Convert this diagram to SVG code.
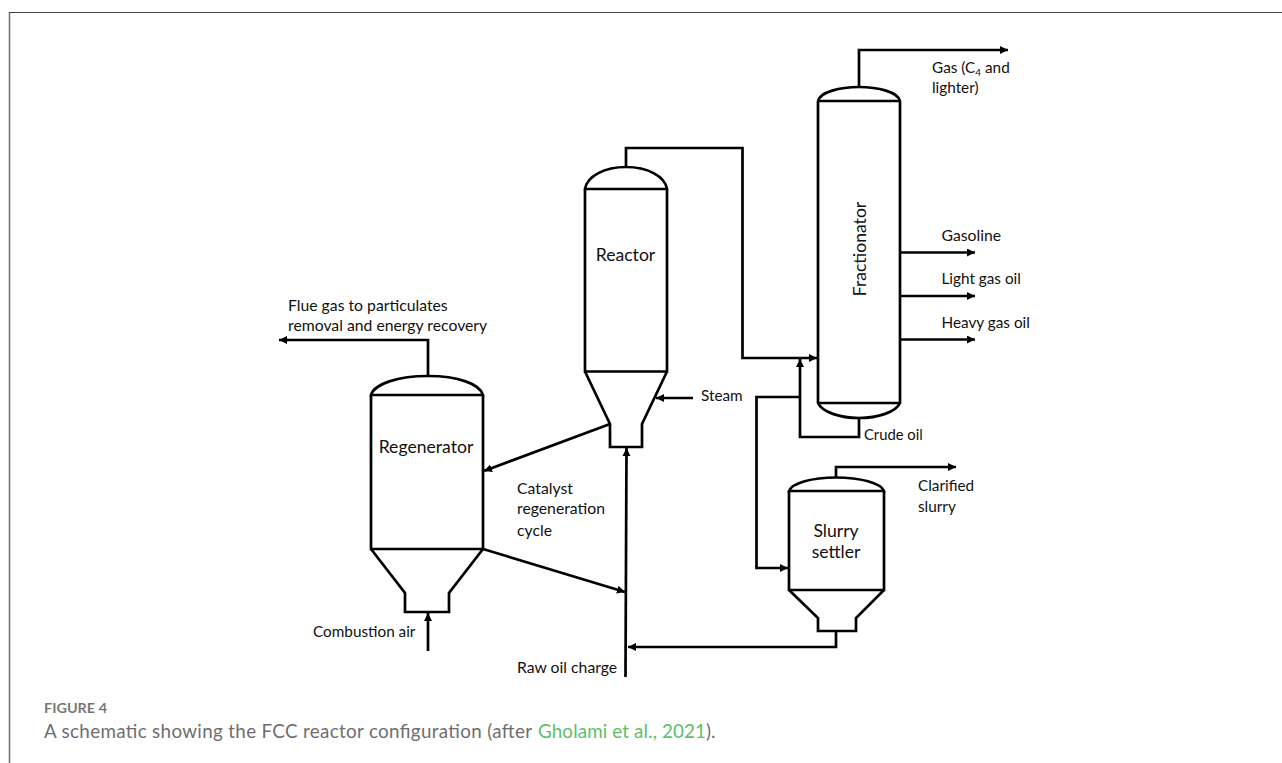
<svg xmlns="http://www.w3.org/2000/svg" width="1282" height="763" viewBox="0 0 1282 763">
<style>
.s{fill:none;stroke:#000;stroke-width:2.7}
.t{font-family:"Lato","Liberation Sans",sans-serif;font-size:15.300px;fill:#111}
.w{font-size:15.750px}
.l{font-family:"Lato","Liberation Sans",sans-serif;font-size:17.600px;fill:#111}
.c{font-family:"Lato","Liberation Sans",sans-serif;fill:#6e6e6e;font-size:18.800px}
</style>
<defs>
<marker id="a" markerUnits="userSpaceOnUse" markerWidth="10" markerHeight="10" refX="8" refY="4" orient="auto"><path d="M0 0L8 4L0 8Z" fill="#000"/></marker>
</defs>
<rect width="1282" height="763" fill="#fff"/>
<path d="M9.500 763V12" fill="none" stroke="#777" stroke-width="1.600"/>
<path d="M9 12.500H1282" fill="none" stroke="#444" stroke-width="1.200"/>
<g id="connectors">
<path class="s" d="M859 87V50H1008" marker-end="url(#a)"/>
<path class="s" d="M626 167V148H742.500V358H817" marker-end="url(#a)"/>
<path class="s" d="M900 252.500H975" marker-end="url(#a)"/>
<path class="s" d="M900 296H975" marker-end="url(#a)"/>
<path class="s" d="M900 339.500H975" marker-end="url(#a)"/>
<path class="s" d="M859 418V437H800V359" marker-end="url(#a)"/>
<path class="s" d="M800 397H756.500V568H788" marker-end="url(#a)"/>
<path class="s" d="M693 398H656" marker-end="url(#a)"/>
<path class="s" d="M610 424L484 471" marker-end="url(#a)"/>
<path class="s" d="M625.500 677L626.500 448" marker-end="url(#a)"/>
<path class="s" d="M483 549L625 592" marker-end="url(#a)"/>
<path class="s" d="M836 631V647H628" marker-end="url(#a)"/>
<path class="s" d="M836 478V467H956" marker-end="url(#a)"/>
<path class="s" d="M428 651V613" marker-end="url(#a)"/>
<path class="s" d="M428 376V340H279" marker-end="url(#a)"/>
</g>
<g id="fractionator">
<path class="s" d="M818 101C820 92 840 87 859 87S898 92 900 101M818 101H900M818 101V403C822 412 840 418 859 418S896 412 900 403V101M818 403H900"/>
<text class="l" transform="translate(866,249) rotate(-90)" text-anchor="middle">Fractionator</text>
</g>
<g id="reactor">
<path class="s" d="M585 189C587 176 605 167 626 167S665 176 667 189ZM585 189V371.500H667V189M585 371.500L610 424V447H642V424L667 371.500"/>
<text class="l" x="625.500" y="261" text-anchor="middle">Reactor</text>
</g>
<g id="regenerator">
<path class="s" d="M371 395C374 384 398 376 428 376S480 384 483 395ZM371 395V549H483V395M371 549L405 593V612H449V593L483 549"/>
<text class="l" x="426" y="453" text-anchor="middle">Regenerator</text>
</g>
<g id="slurry-settler">
<path class="s" d="M789 491C792 483 812 477.500 836 477.500S881 483 884 491ZM789 491V590H884V491M789 590L818 618V631H856V618L884 590"/>
<text class="l" x="836" y="537" text-anchor="middle">Slurry</text>
<text class="l" x="836" y="558" text-anchor="middle">settler</text>
</g>
<g id="labels">
<text class="t" x="932" y="73">Gas (C<tspan font-size="10" dy="3">4</tspan><tspan dy="-3"> and</tspan></text>
<text class="t" x="932" y="93">lighter)</text>
<text class="t w" x="941.500" y="241">Gasoline</text>
<text class="t" x="941.500" y="284">Light gas oil</text>
<text class="t" x="941.500" y="328">Heavy gas oil</text>
<text class="t" x="701" y="401">Steam</text>
<text class="t" x="864" y="440" style="font-size:14.800px">Crude oil</text>
<text class="t" x="918" y="491">Clarified</text>
<text class="t" x="918" y="511.500">slurry</text>
<text class="t w" x="517" y="494">Catalyst</text>
<text class="t w" x="517" y="514">regeneration</text>
<text class="t w" x="517" y="536">cycle</text>
<text class="t w" x="517" y="673">Raw oil charge</text>
<text class="t" x="313" y="637">Combustion air</text>
<text class="t w" x="288" y="311">Flue gas to particulates</text>
<text class="t w" x="288" y="331">removal and energy recovery</text>
</g>
<g id="caption">
<text class="c" x="44" y="713" style="font-size:13.500px;font-weight:700;fill:#777" textLength="63" lengthAdjust="spacingAndGlyphs">FIGURE 4</text>
<text class="c" x="44" y="738" textLength="488">A schematic showing the FCC reactor configuration (after</text>
<text class="c" x="538" y="738" style="fill:#5cbf6a" textLength="168">Gholami et al., 2021</text>
<text class="c" x="706" y="738">).</text>
</g>
</svg>
